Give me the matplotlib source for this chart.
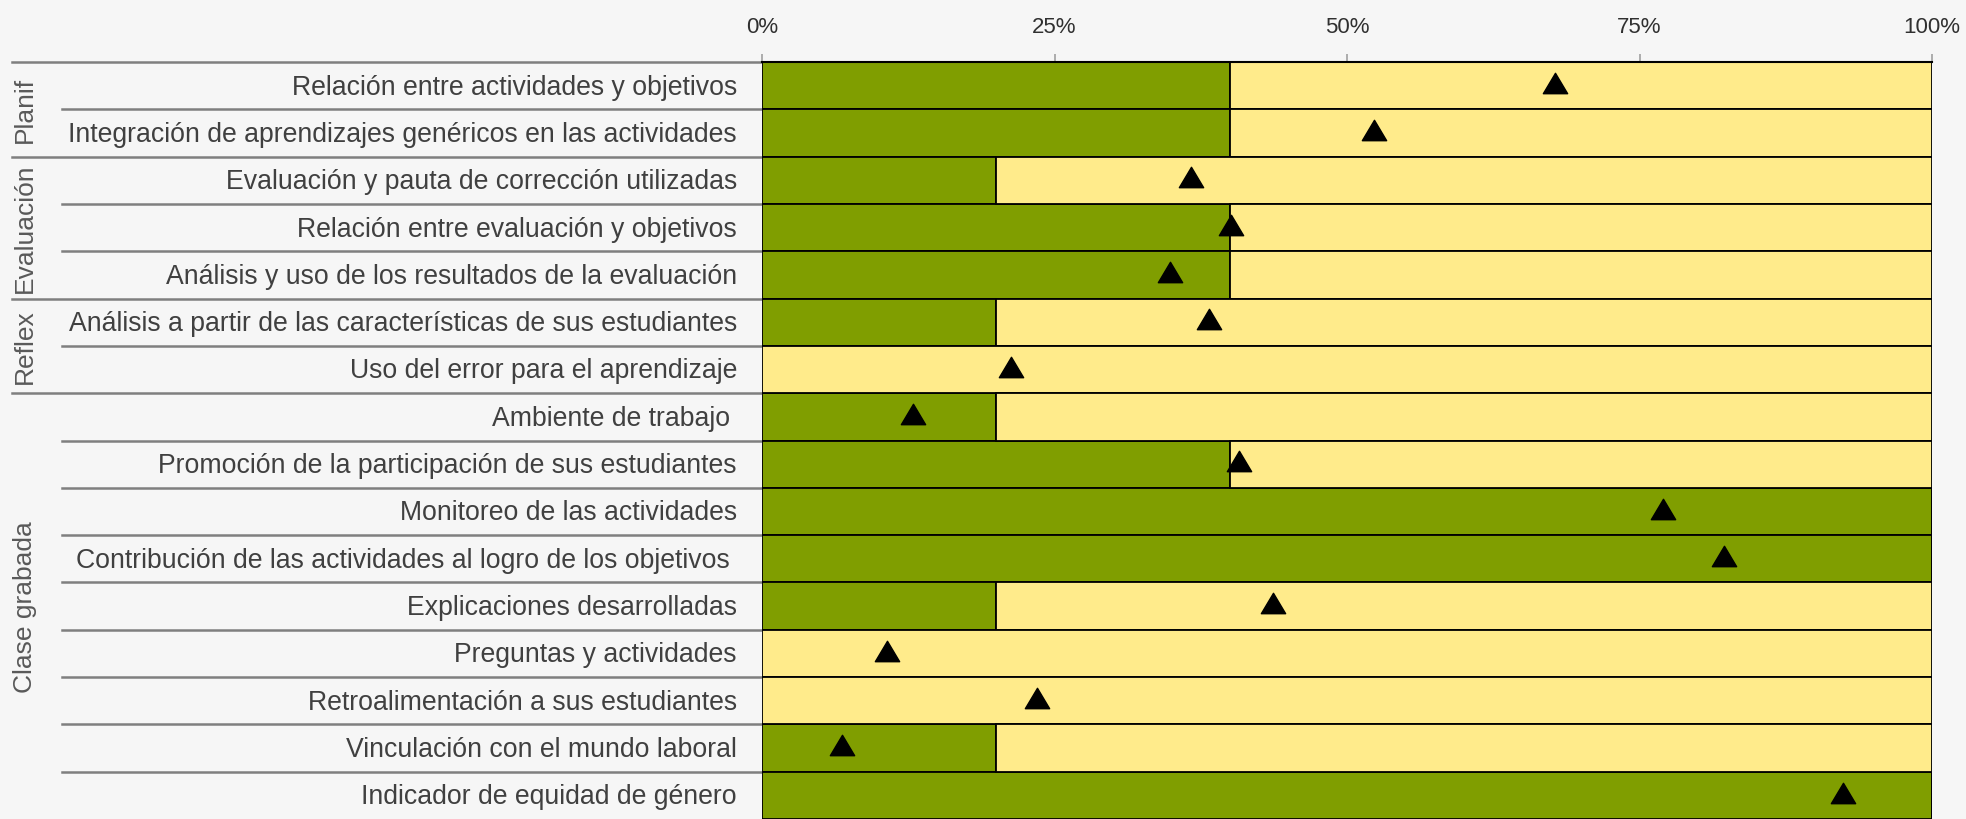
import matplotlib
matplotlib.use("Agg")
import matplotlib.pyplot as plt
from matplotlib.transforms import blended_transform_factory
from matplotlib.path import Path

# ---------------- data ----------------
categories = [
    "Relación entre actividades y objetivos",
    "Integración de aprendizajes genéricos en las actividades",
    "Evaluación y pauta de corrección utilizadas",
    "Relación entre evaluación y objetivos",
    "Análisis y uso de los resultados de la evaluación",
    "Análisis a partir de las características de sus estudiantes",
    "Uso del error para el aprendizaje",
    "Ambiente de trabajo ",
    "Promoción de la participación de sus estudiantes",
    "Monitoreo de las actividades",
    "Contribución de las actividades al logro de los objetivos ",
    "Explicaciones desarrolladas",
    "Preguntas y actividades",
    "Retroalimentación a sus estudiantes",
    "Vinculación con el mundo laboral",
    "Indicador de equidad de género",
]
groups = ["Planif", "Evaluación", "Reflex", "Clase grabada"]
group_sizes = [2, 3, 2, 9]
green_share = [0.40, 0.40, 0.20, 0.40, 0.40, 0.20, 0.00, 0.20,
               0.40, 1.00, 1.00, 0.20, 0.00, 0.00, 0.20, 1.00]
marker_value = [0.678, 0.523, 0.367, 0.401, 0.349, 0.382, 0.213, 0.129,
                0.408, 0.770, 0.822, 0.437, 0.107, 0.235, 0.068, 0.924]
tick_values = [0, 0.25, 0.5, 0.75, 1.0]
tick_labels = ["0%", "25%", "50%", "75%", "100%"]

# ---------------- style ----------------
W, H = 1966, 820
BG = "#F6F6F6"
GREEN = "#809E00"
YELLOW = "#FFEB8B"
LINE_GREY = "#7F7F7F"
TEXT = "#404040"
FONT = "Liberation Sans"

fig = plt.figure(figsize=(W / 100, H / 100), dpi=100, facecolor=BG)
ax_left, ax_right, ax_top, ax_bottom = 762, 1932, 63, 820
ax = fig.add_axes([ax_left / W, 1 - ax_bottom / H,
                   (ax_right - ax_left) / W, (ax_bottom - ax_top) / H])
ax.set_facecolor(BG)

n = len(categories)
ypos = [i + 0.5 for i in range(n)]
yellow_share = [1 - g for g in green_share]

ax.barh(ypos, green_share, height=1.0, color=GREEN, edgecolor="black",
        linewidth=1.3, zorder=2)
ax.barh(ypos, yellow_share, left=green_share, height=1.0, color=YELLOW,
        edgecolor="black", linewidth=1.3, zorder=2)

tri = Path([(0, 0.42), (-0.5, -0.42), (0.5, -0.42), (0, 0.42)],
           [Path.MOVETO, Path.LINETO, Path.LINETO, Path.CLOSEPOLY])
ax.plot(marker_value, [y - 0.06 for y in ypos], linestyle="none",
        marker=tri, markersize=17.5, color="black", zorder=4)

ax.set_xlim(0, 1)
ax.set_ylim(n, 0)
ax.xaxis.tick_top()
ax.set_xticks(tick_values)
ax.set_xticklabels(tick_labels, fontsize=16, color="#303030", fontfamily=FONT)
ax.tick_params(axis="x", which="both", length=6, width=1.2,
               color="#A0A0A0", pad=12, direction="out")
ax.set_yticks([])
for s in ["left", "right", "bottom"]:
    ax.spines[s].set_visible(False)
ax.spines["top"].set_color("black")
ax.spines["top"].set_linewidth(1.5)

# ---------------- left label area ----------------
tr = blended_transform_factory(fig.transFigure, ax.transData)
label_x = 737 / W
for y, lab in zip(ypos, categories):
    ax.text(label_x, y + 0.02, lab, transform=tr, ha="right", va="center",
            fontsize=19.2, color=TEXT, fontfamily=FONT)

start = 0
x_axis = ax_left / W
for g, size in zip(groups, group_sizes):
    # group top line
    ax.plot([12 / W, x_axis], [start, start], transform=tr, color=LINE_GREY,
            linewidth=1.8, clip_on=False, zorder=1)
    # inner row lines
    for k in range(1, size):
        ax.plot([62 / W, x_axis], [start + k, start + k], transform=tr,
                color=LINE_GREY, linewidth=1.8, clip_on=False, zorder=1)
    ax.text(25 / W, start + size / 2, g, transform=tr, rotation=90,
            ha="center", va="center", fontsize=19, color="#595959",
            fontfamily=FONT)
    start += size

fig.savefig("out.png", dpi=100, facecolor=BG)
